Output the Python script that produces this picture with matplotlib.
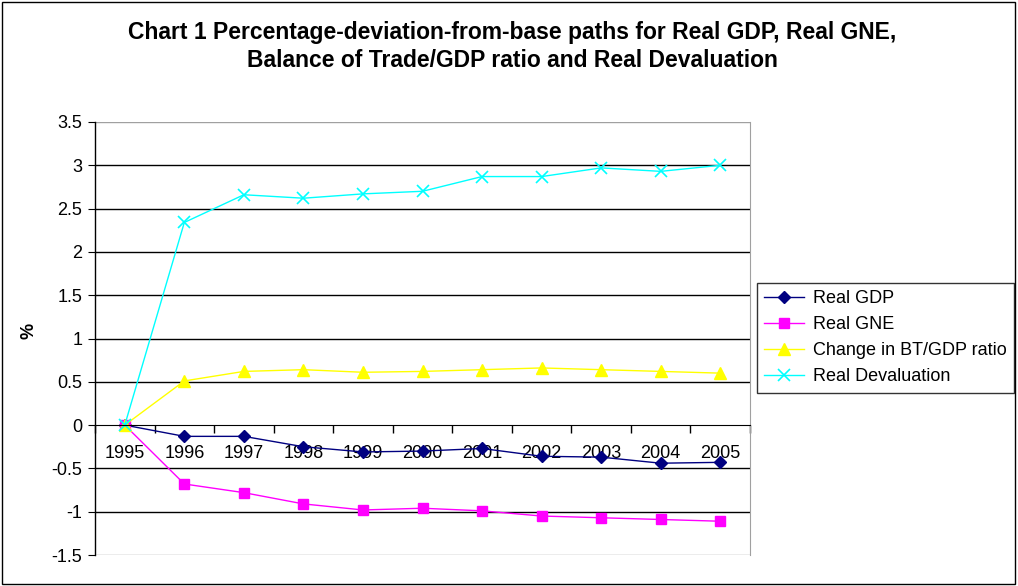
"""
Chart 1: percentage deviation from base paths, 1995-2005.
"""
import matplotlib
matplotlib.use("Agg")
from matplotlib import pylab as plt
from matplotlib.patches import Rectangle

plt.rcParams['font.family'] = ['Liberation Sans', 'DejaVu Sans']

years = ['1995', '1996', '1997', '1998', '1999', '2000',
         '2001', '2002', '2003', '2004', '2005']
real_gdp = [0, -0.13, -0.13, -0.25, -0.31, -0.30, -0.27, -0.36, -0.37, -0.44, -0.43]
real_gne = [0, -0.68, -0.78, -0.91, -0.98, -0.96, -0.99, -1.05, -1.07, -1.09, -1.11]
bt_gdp = [0, 0.51, 0.62, 0.64, 0.61, 0.62, 0.64, 0.66, 0.64, 0.62, 0.60]
real_deval = [0, 2.34, 2.66, 2.62, 2.67, 2.70, 2.87, 2.87, 2.97, 2.93, 3.00]

x = list(range(len(years)))

f = plt.figure(figsize=(10.18, 5.86), dpi=100)
f.patches.append(Rectangle((0.002, 0.003), 0.995, 0.994, transform=f.transFigure,
                           fill=False, edgecolor='black', linewidth=1.0))
ax = f.add_axes([95 / 1018, 1 - 555 / 586, 655 / 1018, 433 / 586])

ax.plot(x, real_gdp, color='#000080', marker='D', markersize=6, linewidth=1.0, label='Real GDP')
ax.plot(x, real_gne, color='#FF00FF', marker='s', markersize=7, linewidth=1.0, label='Real GNE')
ax.plot(x, bt_gdp, color='#FFFF00', marker='^', markersize=8, linewidth=1.0,
        label='Change in BT/GDP ratio')
ax.plot(x, real_deval, color='#00FFFF', marker='x', markersize=8, markeredgewidth=1.2,
        linewidth=1.0, label='Real Devaluation')

ax.set_xlim(-0.5, len(years) - 0.5)
ax.set_ylim(-1.5, 3.5)
ax.set_yticks([-1.5, -1, -0.5, 0, 0.5, 1, 1.5, 2, 2.5, 3, 3.5])
ax.set_yticklabels(['-1.5', '-1', '-0.5', '0', '0.5', '1', '1.5', '2', '2.5', '3', '3.5'])
for yv in [-1, -0.5, 0.5, 1, 1.5, 2, 2.5, 3]:
    ax.axhline(yv, color='black', linewidth=1.0, zorder=0)
ax.axhline(3.5, color='#a0a0a0', linewidth=1.0, zorder=0)
ax.axhline(-1.5, color='#a0a0a0', linewidth=1.0, zorder=0)

ax.set_xticks(x)
ax.set_xticklabels(years)
ax.set_xticks([i - 0.5 for i in range(len(years) + 1)], minor=True)
ax.tick_params(axis='x', which='major', length=0, pad=14, labelsize=13)
ax.tick_params(axis='x', which='minor', length=6, direction='out', width=1)
ax.tick_params(axis='y', length=5, direction='out', labelsize=13, pad=4)

ax.spines['bottom'].set_position(('data', 0))
ax.spines['top'].set_visible(False)
ax.spines['right'].set_color('#a0a0a0')
ax.spines['left'].set_linewidth(1.0)

ax.set_ylabel('%', fontsize=13, fontweight='bold')
ax.yaxis.set_label_coords(-58 / 655, 0.5 + 8 / 433)

f.text(0.503, 0.921, 'Chart 1 Percentage-deviation-from-base paths for Real GDP, Real GNE,\n'
       'Balance of Trade/GDP ratio and Real Devaluation',
       ha='center', va='center', fontsize=16.5, fontweight='bold', linespacing=1.3)

leg = ax.legend(loc='upper left', bbox_to_anchor=(757 / 1018, 1 - 283 / 586),
                bbox_transform=f.transFigure, fontsize=13, frameon=True, fancybox=False,
                edgecolor='black', borderaxespad=0, handlelength=2.2, labelspacing=0.5,
                borderpad=0.4, handletextpad=0.5)
leg.get_frame().set_linewidth(1.0)

f.savefig("out.png", dpi=100)
